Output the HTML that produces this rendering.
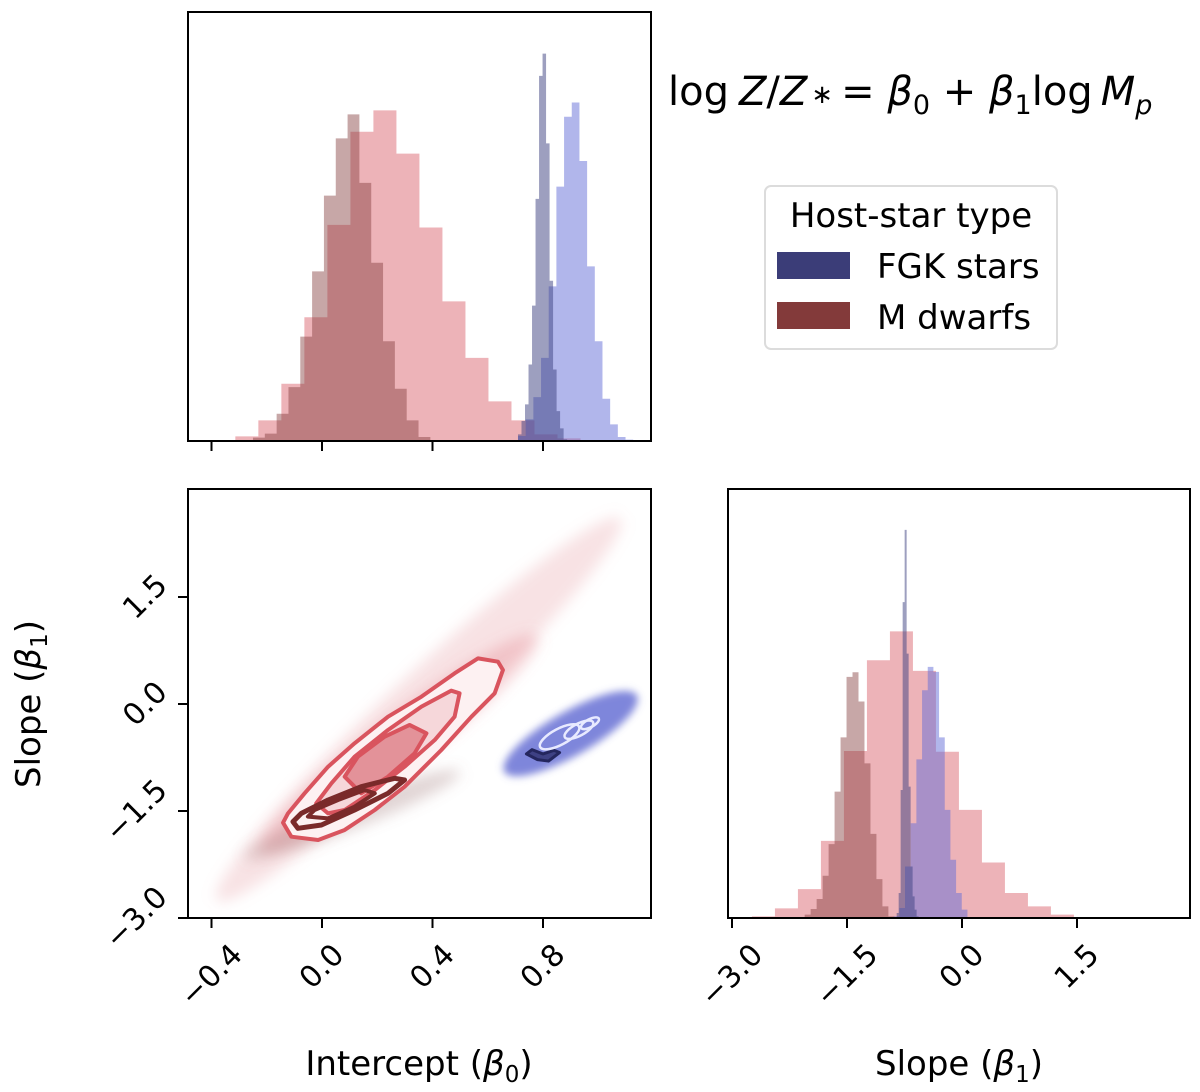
<!DOCTYPE html>
<html><head><meta charset="utf-8"><style>
html,body{margin:0;padding:0;background:#fff}
svg{display:block;font-family:"DejaVu Sans","Liberation Sans",sans-serif}
</style></head><body>
<svg id="fig" width="1200" height="1092" viewBox="0 0 1200 1092" xmlns="http://www.w3.org/2000/svg">
<defs>
<filter id="blur6" x="-50%" y="-50%" width="200%" height="200%"><feGaussianBlur stdDeviation="7"/></filter>
<filter id="blur3" x="-50%" y="-50%" width="200%" height="200%"><feGaussianBlur stdDeviation="4"/></filter>
<clipPath id="clipJoint"><rect x="188" y="489" width="463" height="429"/></clipPath>
</defs>
<g id="top"></g>
<g id="joint"></g>
<g id="right"></g>
<text x="668" y="105" font-size="40">log<tspan font-style="italic" dx="10">Z</tspan>/<tspan font-style="italic">Z</tspan><tspan font-size="26" dy="-2" dx="4">∗</tspan><tspan dy="2" dx="8">= </tspan><tspan font-style="italic">β</tspan><tspan font-size="27" dy="9">0</tspan><tspan dy="-9"> + </tspan><tspan font-style="italic">β</tspan><tspan font-size="27" dy="9">1</tspan><tspan dy="-9">log</tspan><tspan font-style="italic" dx="8">M</tspan><tspan font-style="italic" font-size="27" dy="9">p</tspan></text>
<g>
<rect x="765" y="186" width="292" height="163" rx="6" fill="#fff" stroke="#dcdcdc" stroke-width="2"/>
<text x="911" y="227" font-size="34" text-anchor="middle">Host-star type</text>
<rect x="777" y="252" width="73" height="27" fill="#3b3d78"/>
<text x="877" y="278" font-size="34">FGK stars</text>
<rect x="777" y="302" width="73" height="27" fill="#833a3a"/>
<text x="877" y="329" font-size="34">M dwarfs</text>
</g>
</svg>
<script>
// ---------- data ----------
const b0PinkStart = -0.397, b0PinkWidth = 0.0833;
const b0PinkCounts = [3,14,62,172,372,650,930,994,864,642,420,250,119,62,20,8];
const b0BrownStart = -0.2498, b0BrownWidth = 0.0428;
const b0BrownCounts = [10,22,82,162,314,510,738,910,982,776,536,300,157,62,12,3];
const b0LBlueStart = 0.7095, b0LBlueWidth = 0.0278;
const b0LBlueCounts = [15,65,132,250,465,765,975,1018,842,525,300,127,50,12,4];
const b0DBlueStart = 0.7095, b0DBlueWidth = 0.0127;
const b0DBlueCounts = [20,60,110,230,407,728,1098,1165,895,482,215,90,38,5];
const b1PinkStart = -2.74, b1PinkWidth = 0.30;
const b1PinkCounts = [5,29,87,232,502,775,862,743,500,325,167,75,35,10,3];
const b1BrownStart = -2.13, b1BrownWidth = 0.078;
const b1BrownCounts = [3,10,27,57,127,222,380,543,725,739,651,465,253,117,35,5];
const b1LBlueStart = -0.891, b1LBlueWidth = 0.074;
const b1LBlueCounts = [5,30,155,285,477,685,755,740,543,325,175,75,25,3];
const b1DBlueStart = -0.852, b1DBlueWidth = 0.026;
const b1DBlueCounts = [15,75,385,950,1167,795,395,155,65,25,5];
const cloudRedFaint = [-0.38,-2.75,1.08,2.6];
const cloudRedCore = [-0.22,-2.05,0.78,0.95];
const cloudBrown = [-0.28,-2.15,0.5,-0.95];
const cloudBlue = [0.66,-0.95,1.14,0.12];
const redOuterB0 = [-0.141,-0.111,-0.014,0.082,0.191,0.299,0.432,0.541,0.625,0.655,0.637,0.565,0.480,0.360,0.239,0.118,0.022,-0.063,-0.123];
const redOuterB1 = [-1.664,-1.860,-1.907,-1.766,-1.486,-1.159,-0.645,-0.178,0.150,0.477,0.593,0.640,0.430,0.103,-0.178,-0.551,-0.879,-1.252,-1.533];
const redMidB0 = [-0.021,0.022,0.082,0.191,0.299,0.408,0.480,0.498,0.468,0.360,0.239,0.118,0.034];
const redMidB1 = [-1.393,-1.533,-1.486,-1.206,-0.879,-0.505,-0.178,0.150,0.187,-0.037,-0.364,-0.738,-1.112];
const redInnerB0 = [0.082,0.142,0.239,0.335,0.378,0.317,0.227,0.130];
const redInnerB1 = [-1.019,-1.252,-1.019,-0.692,-0.411,-0.294,-0.458,-0.738];
const mOuterB0 = [-0.105,-0.087,-0.002,0.118,0.239,0.299,0.263,0.142,0.022,-0.075];
const mOuterB1 = [-1.650,-1.743,-1.696,-1.486,-1.252,-1.065,-1.042,-1.159,-1.346,-1.533];
const mInnerB0 = [-0.051,0.022,0.118,0.191,0.154,0.058,-0.027];
const mInnerB1 = [-1.579,-1.603,-1.439,-1.252,-1.206,-1.346,-1.486];
const blueRingB0 = [0.86,0.93,0.97];
const blueRingB1 = [-0.46,-0.36,-0.27];
const navyB0 = [0.74,0.78,0.82,0.86,0.84,0.80,0.76];
const navyB1 = [-0.70,-0.78,-0.80,-0.68,-0.65,-0.70,-0.64];
const b0Ticks = [-0.4,0.0,0.4,0.8];
const b0TickLabels = ["−0.4","0.0","0.4","0.8"];
const b1Ticks = [-3.0,-1.5,0.0,1.5];
const b1TickLabels = ["−3.0","−1.5","0.0","1.5"];

// ---------- scales ----------
const NS = "http://www.w3.org/2000/svg";
const xB0 = v => 322 + v * 276.25;
const yB1 = v => 704 - v * 71.33;
const xB1 = v => 962 + v * 76.67;
const HMAX = 1290;
const yTop = c => 441 - c / HMAX * 429;
const yRight = c => 918 - c / HMAX * 429;

function mk(tag, attrs, parent) {
  const e = document.createElementNS(NS, tag);
  for (const k in attrs) e.setAttribute(k, attrs[k]);
  parent.appendChild(e);
  return e;
}
const gTop = document.getElementById('top');
const gJoint = document.getElementById('joint');
const gRight = document.getElementById('right');

function hist(parent, start, width, counts, xs, ys, fill, op, name) {
  const g = mk('g', {}, parent);
  
  
  let d = '';
  counts.forEach((c, i) => {
    const x0 = xs(start + i * width), x1 = xs(start + (i + 1) * width);
    d += `M${x0},${ys(0)}V${ys(c)}H${x1}V${ys(0)}Z`;
  });
  const p = mk('path', {d: d, fill: fill, 'fill-opacity': op}, g);
  
  
}
hist(gTop, b0PinkStart, b0PinkWidth, b0PinkCounts, xB0, yTop, 'rgb(214,86,98)', 0.45, 'intercept-hist-m-dwarfs-wide');
hist(gTop, b0BrownStart, b0BrownWidth, b0BrownCounts, xB0, yTop, 'rgb(130,60,60)', 0.45, 'intercept-hist-m-dwarfs');
hist(gTop, b0LBlueStart, b0LBlueWidth, b0LBlueCounts, xB0, yTop, 'rgb(100,110,215)', 0.5, 'intercept-hist-fgk-wide');
hist(gTop, b0DBlueStart, b0DBlueWidth, b0DBlueCounts, xB0, yTop, 'rgb(60,63,127)', 0.5, 'intercept-hist-fgk');
hist(gRight, b1PinkStart, b1PinkWidth, b1PinkCounts, xB1, yRight, 'rgb(214,86,98)', 0.45, 'slope-hist-m-dwarfs-wide');
hist(gRight, b1BrownStart, b1BrownWidth, b1BrownCounts, xB1, yRight, 'rgb(130,60,60)', 0.45, 'slope-hist-m-dwarfs');
hist(gRight, b1LBlueStart, b1LBlueWidth, b1LBlueCounts, xB1, yRight, 'rgb(100,110,215)', 0.5, 'slope-hist-fgk-wide');
hist(gRight, b1DBlueStart, b1DBlueWidth, b1DBlueCounts, xB1, yRight, 'rgb(60,63,127)', 0.5, 'slope-hist-fgk');

const gClip = mk('g', {'clip-path': 'url(#clipJoint)'}, gJoint);
function cloud(c, thick, fill, op, filt, name) {
  const x1 = xB0(c[0]), y1 = yB1(c[1]), x2 = xB0(c[2]), y2 = yB1(c[3]);
  const cx = (x1 + x2) / 2, cy = (y1 + y2) / 2;
  const len = Math.hypot(x2 - x1, y2 - y1) / 2;
  const ang = Math.atan2(y2 - y1, x2 - x1) * 180 / Math.PI;
  const e = mk('ellipse', {cx: cx, cy: cy, rx: len, ry: thick, fill: fill, 'fill-opacity': op,
    filter: `url(#${filt})`, transform: `rotate(${ang} ${cx} ${cy})`}, gClip);
  
  
}
cloud(cloudRedFaint, 32, '#e58a93', 0.25, 'blur6', 'm-dwarf-sample-cloud-outer');
cloud(cloudRedCore, 26, '#e07880', 0.3, 'blur6', 'm-dwarf-sample-cloud-core');
cloud(cloudBrown, 14, '#9a7070', 0.3, 'blur6', 'm-dwarf-sample-cloud-dark');
cloud(cloudBlue, 22, '#5f68d2', 0.8, 'blur3', 'fgk-sample-cloud');

function poly(b0s, b1s, attrs, name) {
  const pts = b0s.map((v, i) => xB0(v) + ',' + yB1(b1s[i])).join(' ');
  const p = mk('polygon', Object.assign({points: pts, 'stroke-linejoin': 'round'}, attrs), gClip);
  
  
}
poly(redOuterB0, redOuterB1, {fill: '#fdf1f2', stroke: '#d9545e', 'stroke-width': 4}, 'm-dwarf-contour-outer');
poly(redMidB0, redMidB1, {fill: '#f6d7da', stroke: '#d9545e', 'stroke-width': 4}, 'm-dwarf-contour-middle');
poly(redInnerB0, redInnerB1, {fill: '#e39299', stroke: '#d9545e', 'stroke-width': 4}, 'm-dwarf-contour-inner');
poly(mOuterB0, mOuterB1, {fill: 'none', stroke: '#7a2a2a', 'stroke-width': 5}, 'm-dwarf-dark-contour-outer');
poly(mInnerB0, mInnerB1, {fill: 'none', stroke: '#7a2a2a', 'stroke-width': 4}, 'm-dwarf-dark-contour-inner');
poly(navyB0, navyB1, {fill: '#2e2f6e', 'fill-opacity': 0.8, stroke: '#24265e', 'stroke-width': 3}, 'fgk-dark-contour');
blueRingB0.forEach((v, i) => {
  const cx = xB0(v), cy = yB1(blueRingB1[i]);
  const e = mk('ellipse', {cx: cx, cy: cy, rx: 22 - i * 6, ry: 8 - i * 2, fill: 'none', stroke: '#e8eaff', 'stroke-width': 2.5,
    transform: `rotate(-28 ${cx} ${cy})`}, gClip);
  
  
});

function frame(parent, x, y, w, h, name) {
  const r = mk('rect', {x: x, y: y, width: w, height: h, fill: 'none', stroke: '#000', 'stroke-width': 2}, parent);
  
  
}
frame(gTop, 188, 12, 463, 429, 'intercept-hist-frame');
frame(gJoint, 188, 489, 463, 429, 'joint-frame');
frame(gRight, 728, 489, 462, 429, 'slope-hist-frame');

const TF = 30;
function xTicks(parent, ticks, labels, sc, yAxis, withLabels, prefix) {
  ticks.forEach((t, i) => {
    const x = sc(t);
    const l = mk('line', {x1: x, x2: x, y1: yAxis, y2: yAxis + 10, stroke: '#000', 'stroke-width': 2}, parent);
    
    
    if (withLabels) {
      const tx = mk('text', {'font-size': TF, 'text-anchor': 'middle', 'dominant-baseline': 'central'}, parent);
      tx.textContent = labels[i];
      
      
      const w = tx.getComputedTextLength();
      const half = (w + 22) / (2 * Math.SQRT2);
      const cy = yAxis + 24 + half;
      tx.setAttribute('x', x); tx.setAttribute('y', cy);
      tx.setAttribute('transform', `rotate(-45 ${x} ${cy})`);
    }
  });
}
xTicks(gTop, b0Ticks, b0TickLabels, xB0, 441, false, 'intercept-top');
xTicks(gJoint, b0Ticks, b0TickLabels, xB0, 918, true, 'intercept-x');
xTicks(gRight, b1Ticks, b1TickLabels, xB1, 918, true, 'slope-x');
b1Ticks.forEach((t, i) => {
  const y = yB1(t);
  const l = mk('line', {x1: 178, x2: 188, y1: y, y2: y, stroke: '#000', 'stroke-width': 2}, gJoint);
  
  
  const tx = mk('text', {'font-size': TF, 'text-anchor': 'middle', 'dominant-baseline': 'central'}, gJoint);
  tx.textContent = b1TickLabels[i];
  
  
  const w = tx.getComputedTextLength();
  const half = (w + 22) / (2 * Math.SQRT2);
  const cx = 170 - half;
  tx.setAttribute('x', cx); tx.setAttribute('y', y);
  tx.setAttribute('transform', `rotate(-45 ${cx} ${y})`);
});

function label(parent, x, y, rot, name, parts) {
  const t = mk('text', {x: x, y: y, 'font-size': 34, 'text-anchor': 'middle'}, parent);
  if (rot) t.setAttribute('transform', `rotate(-90 ${x} ${y})`);
  
  
  t.innerHTML = parts;
}
label(gJoint, 419, 1075, false, 'x-axis-title-intercept', 'Intercept (<tspan font-style="italic">β</tspan><tspan font-size="23" dy="7">0</tspan><tspan dy="-7">)</tspan>');
label(gRight, 959, 1075, false, 'x-axis-title-slope', 'Slope (<tspan font-style="italic">β</tspan><tspan font-size="23" dy="7">1</tspan><tspan dy="-7">)</tspan>');
label(gJoint, 40, 704, true, 'y-axis-title-slope', 'Slope (<tspan font-style="italic">β</tspan><tspan font-size="23" dy="7">1</tspan><tspan dy="-7">)</tspan>');
</script>
</body></html>
